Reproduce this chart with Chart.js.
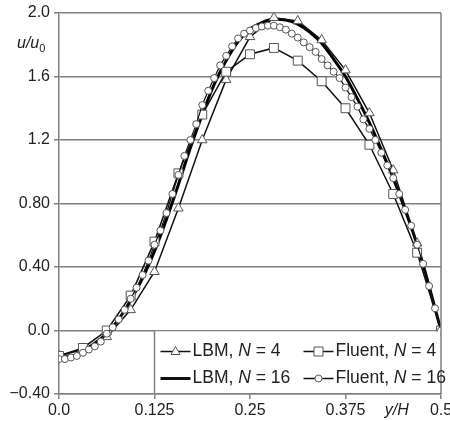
<!DOCTYPE html>
<html>
<head>
<meta charset="utf-8">
<script src="https://cdn.jsdelivr.net/npm/chart.js@4.4.1/dist/chart.umd.min.js"></script>
<style>
  html, body { margin: 0; padding: 0; background: #fff; }
  canvas { display: block; }
</style>
</head>
<body>
<canvas id="profile" width="450" height="421"></canvas>
<script>
// y/H stations, N = 4 runs (every 1/32)
var yH4 = [0, 0.0313, 0.0625, 0.0938, 0.125, 0.1563, 0.1875, 0.2188, 0.25,
  0.2813, 0.3125, 0.3438, 0.375, 0.4063, 0.4375, 0.4688, 0.5];
var lbmN4 = [-0.16, -0.12, -0.04, 0.13, 0.37, 0.77, 1.20, 1.58, 1.85,
  1.97, 1.95, 1.83, 1.64, 1.37, 1.01, 0.55, 0.0];
var fluentN4 = [-0.16, -0.11, 0.0, 0.22, 0.56, 0.99, 1.36, 1.63, 1.74,
  1.78, 1.70, 1.57, 1.40, 1.17, 0.86, 0.49, 0.0];

// LBM, N = 16 (every 1/64)
var yH16lbm = [0, 0.0156, 0.0313, 0.0469, 0.0625, 0.0781, 0.0938, 0.1094, 0.125,
  0.1406, 0.1563, 0.1719, 0.1875, 0.2031, 0.2188, 0.2344, 0.25, 0.2656, 0.2813,
  0.2969, 0.3125, 0.3281, 0.3438, 0.3594, 0.375, 0.3906, 0.4063, 0.4219, 0.4375,
  0.4531, 0.4688, 0.4844, 0.5];
var lbmN16 = [-0.16, -0.16, -0.13, -0.08, -0.02, 0.07, 0.19, 0.33, 0.50,
  0.70, 0.92, 1.15, 1.36, 1.55, 1.70, 1.82, 1.90, 1.94, 1.96,
  1.955, 1.93, 1.88, 1.81, 1.71, 1.60, 1.46, 1.31, 1.14, 0.96,
  0.76, 0.54, 0.28, 0.0];

// Fluent, N = 16 (every 1/128)
var yH16fl = [0, 0.0078, 0.0156, 0.0234, 0.0313, 0.0391, 0.0469, 0.0547, 0.0625,
  0.0703, 0.0781, 0.0859, 0.0938, 0.1016, 0.1094, 0.1172, 0.125, 0.1328, 0.1406,
  0.1484, 0.1563, 0.1641, 0.1719, 0.1797, 0.1875, 0.1953, 0.2031, 0.2109, 0.2188,
  0.2266, 0.2344, 0.2422, 0.25, 0.2578, 0.2656, 0.2734, 0.2813, 0.2891, 0.2969,
  0.3047, 0.3125, 0.3203, 0.3281, 0.3359, 0.3438, 0.3516, 0.3594, 0.3672, 0.375,
  0.3828, 0.3906, 0.3984, 0.4063, 0.4141, 0.4219, 0.4297, 0.4375, 0.4453, 0.4531,
  0.4609, 0.4688, 0.4766, 0.4844, 0.4922, 0.5];
var fluentN16 = [-0.18, -0.18, -0.17, -0.16, -0.14, -0.12, -0.10, -0.07, -0.02,
  0.02, 0.07, 0.13, 0.20, 0.27, 0.35, 0.44, 0.54, 0.63, 0.74,
  0.86, 0.98, 1.10, 1.20, 1.30, 1.42, 1.51, 1.59, 1.67, 1.73,
  1.79, 1.84, 1.87, 1.89, 1.905, 1.915, 1.92, 1.92, 1.91, 1.895,
  1.87, 1.845, 1.815, 1.785, 1.755, 1.71, 1.67, 1.63, 1.59, 1.53,
  1.47, 1.41, 1.33, 1.27, 1.20, 1.12, 1.04, 0.96, 0.86, 0.76,
  0.66, 0.54, 0.42, 0.28, 0.14, 0.0];

var xTicks = [0, 0.125, 0.25, 0.375, 0.5];
var xTickLabels = ["0.0", "0.125", "0.25", "0.375", "0.5"];
var yTicks = [-0.4, 0, 0.4, 0.8, 1.2, 1.6, 2.0];
var yTickLabels = ["\u22120.40", "0.0", "0.40", "0.80", "1.2", "1.6", "2.0"];

var seriesNames = ["LBM, N = 4", "LBM, N = 16", "Fluent, N = 4", "Fluent, N = 16"];

function pts(xs, ys) {
  return xs.map(function (x, i) { return { x: x, y: ys[i] }; });
}

var gridGray = "#808080";
var font = "Liberation Sans, Arial, sans-serif";

// draws legend box, right frame line and axis titles
var extras = {
  id: "extras",
  afterDatasetsDraw: function (chart) {
    var ctx = chart.ctx;
    var xs = chart.scales.x, ys = chart.scales.y;
    var area = chart.chartArea;
    ctx.save();
    // right frame
    ctx.strokeStyle = gridGray;
    ctx.lineWidth = 1.5;
    ctx.beginPath();
    ctx.moveTo(area.right, area.top);
    ctx.lineTo(area.right, area.bottom);
    ctx.stroke();

    // legend box
    var bl = xs.getPixelForValue(0.125), bt = ys.getPixelForValue(0);
    var br = area.right, bb = area.bottom;
    ctx.fillStyle = "#fff";
    ctx.fillRect(bl + 1, bt + 1, br - bl - 2, bb - bt - 2);
    ctx.beginPath();
    ctx.moveTo(bl, bt);
    ctx.lineTo(bl, bb);
    ctx.stroke();

    var rows = [bt + 21, bt + 48];
    var cols = [bl + 6, bl + 149];
    var entries = [
      { c: 0, r: 0, name: seriesNames[0], mark: "tri" },
      { c: 0, r: 1, name: seriesNames[1], mark: "thick" },
      { c: 1, r: 0, name: seriesNames[2], mark: "sq" },
      { c: 1, r: 1, name: seriesNames[3], mark: "circ" }
    ];
    entries.forEach(function (e) {
      var x0 = cols[e.c], y0 = rows[e.r];
      ctx.strokeStyle = "#111";
      ctx.lineWidth = e.mark === "thick" ? 3 : 1.5;
      ctx.beginPath();
      ctx.moveTo(x0, y0);
      ctx.lineTo(x0 + 30, y0);
      ctx.stroke();
      var cx = x0 + 15;
      ctx.fillStyle = "#fff";
      ctx.strokeStyle = "#555";
      ctx.lineWidth = 1;
      ctx.beginPath();
      if (e.mark === "tri") {
        ctx.moveTo(cx, y0 - 5);
        ctx.lineTo(cx + 4.5, y0 + 3);
        ctx.lineTo(cx - 4.5, y0 + 3);
        ctx.closePath();
        ctx.fill(); ctx.stroke();
      } else if (e.mark === "sq") {
        ctx.rect(cx - 4.5, y0 - 4.5, 9, 9);
        ctx.fill(); ctx.stroke();
      } else if (e.mark === "circ") {
        ctx.arc(cx, y0, 3.5, 0, Math.PI * 2);
        ctx.fill(); ctx.stroke();
      }
      // label with italic N
      var parts = e.name.split("N");
      var tx = x0 + 32;
      ctx.fillStyle = "#222";
      ctx.textBaseline = "middle";
      ctx.textAlign = "left";
      ctx.font = "17.5px " + font;
      ctx.fillText(parts[0], tx, y0);
      tx += ctx.measureText(parts[0]).width;
      ctx.font = "italic 17.5px " + font;
      ctx.fillText("N", tx, y0);
      tx += ctx.measureText("N").width;
      ctx.font = "17.5px " + font;
      ctx.fillText(parts[1], tx, y0);
    });

    // axis titles
    ctx.fillStyle = "#222";
    ctx.textBaseline = "alphabetic";
    ctx.textAlign = "left";
    ctx.font = "italic 16px " + font;
    ctx.fillText("u/u", area.left - 42, ys.getPixelForValue(1.78));
    var w = ctx.measureText("u/u").width;
    ctx.font = "11px " + font;
    ctx.fillText("0", area.left - 42 + w, ys.getPixelForValue(1.78) + 4);
    ctx.font = "italic 16px " + font;
    ctx.textAlign = "center";
    ctx.fillText("y/H", xs.getPixelForValue(0.442), area.bottom + 21);
    ctx.restore();
  }
};

new Chart(document.getElementById("profile"), {
  type: "scatter",
  data: {
    datasets: [
      {
        label: seriesNames[3],
        data: pts(yH16fl, fluentN16),
        showLine: true,
        borderColor: "#111",
        borderWidth: 1.2,
        pointStyle: "circle",
        pointRadius: 3.5,
        pointBackgroundColor: "#fff",
        pointBorderColor: "#555",
        pointBorderWidth: 1,
        order: 0
      },
      {
        label: seriesNames[2],
        data: pts(yH4, fluentN4),
        showLine: true,
        borderColor: "#111",
        borderWidth: 1.5,
        pointStyle: "rect",
        pointRadius: 6.3,
        pointBackgroundColor: "#fff",
        pointBorderColor: "#555",
        pointBorderWidth: 1,
        order: 1
      },
      {
        label: seriesNames[0],
        data: pts(yH4, lbmN4),
        showLine: true,
        borderColor: "#111",
        borderWidth: 1.5,
        pointStyle: "triangle",
        pointRadius: 5.5,
        pointBackgroundColor: "#fff",
        pointBorderColor: "#555",
        pointBorderWidth: 1,
        order: 2
      },
      {
        label: seriesNames[1],
        data: pts(yH16lbm, lbmN16),
        showLine: true,
        borderColor: "#000",
        borderWidth: 3,
        pointRadius: 0,
        cubicInterpolationMode: "monotone",
        order: 3
      }
    ]
  },
  options: {
    responsive: false,
    animation: false,
    devicePixelRatio: 1,
    layout: { padding: { top: 13, right: 9, left: 0, bottom: 0 } },
    plugins: {
      legend: { display: false },
      tooltip: { enabled: false }
    },
    scales: {
      x: {
        type: "linear",
        min: 0,
        max: 0.5,
        afterBuildTicks: function (s) {
          s.ticks = xTicks.map(function (v) { return { value: v }; });
        },
        afterFit: function (s) {
          s.height = 27;
          s.paddingLeft = 0;
          s.paddingRight = 0;
        },
        ticks: {
          color: "#222",
          font: { family: font, size: 16 },
          padding: 2,
          maxRotation: 0,
          callback: function (v) { return xTickLabels[xTicks.indexOf(v)]; }
        },
        grid: {
          drawOnChartArea: false,
          drawTicks: true,
          tickLength: 5,
          color: gridGray,
          lineWidth: 1.5
        },
        border: { color: gridGray, width: 1.5 }
      },
      y: {
        min: -0.4,
        max: 2.0,
        afterBuildTicks: function (s) {
          s.ticks = yTicks.map(function (v) { return { value: v }; });
        },
        afterFit: function (s) {
          s.width = 59;
          s.paddingTop = 0;
          s.paddingBottom = 0;
        },
        ticks: {
          color: "#222",
          font: { family: font, size: 16 },
          padding: 4,
          callback: function (v) { return yTickLabels[yTicks.indexOf(v)]; }
        },
        grid: {
          color: gridGray,
          lineWidth: 1.5,
          tickLength: 5
        },
        border: { color: gridGray, width: 1.5 }
      }
    }
  },
  plugins: [extras]
});
</script>
</body>
</html>
